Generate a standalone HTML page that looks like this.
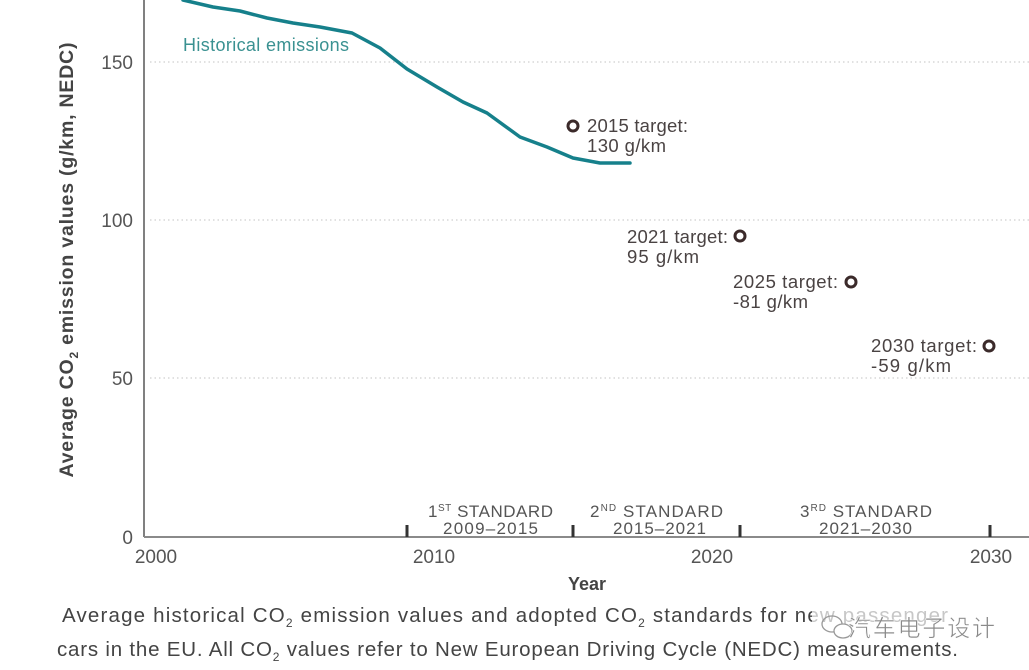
<!DOCTYPE html>
<html><head><meta charset="utf-8"><style>
html,body{margin:0;padding:0;background:#fff;}
svg{display:block;}
text{font-family:"Liberation Sans","Noto Sans CJK SC",sans-serif;}
</style></head><body>
<svg width="1029" height="670" viewBox="0 0 1029 670" xmlns="http://www.w3.org/2000/svg">
<rect width="1029" height="670" fill="#fff"/>
<!-- gridlines -->
<g stroke="#cfcfcf" stroke-width="1.3" stroke-dasharray="1.5 3">
<line x1="150" y1="62" x2="1029" y2="62"/>
<line x1="150" y1="220" x2="1029" y2="220"/>
<line x1="150" y1="378" x2="1029" y2="378"/>
</g>
<!-- axes -->
<line x1="144" y1="0" x2="144" y2="537" stroke="#808080" stroke-width="2"/>
<line x1="144" y1="537" x2="1029" y2="537" stroke="#8a8a8a" stroke-width="2"/>
<g stroke="#333" stroke-width="3">
<line x1="407" y1="525" x2="407" y2="537"/>
<line x1="573" y1="525" x2="573" y2="537"/>
<line x1="740" y1="525" x2="740" y2="537"/>
<line x1="990" y1="525" x2="990" y2="537"/>
</g>
<!-- y tick labels -->
<g fill="#555" font-size="19" text-anchor="end">
<text x="133" y="69">150</text>
<text x="133" y="227">100</text>
<text x="133" y="385">50</text>
<text x="133" y="544">0</text>
</g>
<!-- x tick labels -->
<g fill="#555" font-size="19" text-anchor="middle">
<text x="156" y="563">2000</text>
<text x="434" y="563">2010</text>
<text x="712" y="563">2020</text>
<text x="991" y="563">2030</text>
</g>
<text x="587" y="590" fill="#444" font-size="18" font-weight="bold" text-anchor="middle">Year</text>
<!-- y title -->
<text transform="translate(73,260) rotate(-90)" fill="#444" font-size="19.5" font-weight="bold" text-anchor="middle" textLength="435" lengthAdjust="spacing">Average CO<tspan font-size="12" dy="5">2</tspan><tspan dy="-5"> emission values (g/km, NEDC)</tspan></text>
<!-- standards -->
<g fill="#555" font-size="17">
<text x="428" y="517" textLength="125" lengthAdjust="spacing">1<tspan font-size="10" dy="-6">ST</tspan><tspan dy="6"> STANDARD</tspan></text>
<text x="443" y="534" textLength="95" lengthAdjust="spacing">2009–2015</text>
<text x="590" y="517" textLength="133" lengthAdjust="spacing">2<tspan font-size="10" dy="-6">ND</tspan><tspan dy="6"> STANDARD</tspan></text>
<text x="613" y="534" textLength="93" lengthAdjust="spacing">2015–2021</text>
<text x="800" y="517" textLength="132" lengthAdjust="spacing">3<tspan font-size="10" dy="-6">RD</tspan><tspan dy="6"> STANDARD</tspan></text>
<text x="819" y="534" textLength="93" lengthAdjust="spacing">2021–2030</text>
</g>
<!-- historical line -->
<polyline fill="none" stroke="#16808b" stroke-width="3.5" stroke-linejoin="round" stroke-linecap="round"
points="183,0 213,7 240,11 267,18 293,23 320,27 352,33 380,48 407,69 437,87 463,102 487,113 520,137 547,147 573,158 600,163 630,163"/>
<text x="183" y="51" fill="#3a9191" font-size="18" textLength="166" lengthAdjust="spacing">Historical emissions</text>
<!-- targets -->
<g fill="none" stroke="#3b2a2a" stroke-width="3">
<circle cx="573" cy="126" r="5"/>
<circle cx="740" cy="236" r="5"/>
<circle cx="851" cy="282" r="5"/>
<circle cx="989" cy="346" r="5"/>
</g>
<g fill="#4a4343" font-size="18.5">
<text x="587" y="132" textLength="101" lengthAdjust="spacing">2015 target:</text>
<text x="587" y="152" textLength="79" lengthAdjust="spacing">130 g/km</text>
<text x="627" y="243" textLength="101" lengthAdjust="spacing">2021 target:</text>
<text x="627" y="263" textLength="72" lengthAdjust="spacing">95 g/km</text>
<text x="733" y="288" textLength="105" lengthAdjust="spacing">2025 target:</text>
<text x="733" y="308" textLength="75" lengthAdjust="spacing">-81 g/km</text>
<text x="871" y="352" textLength="106" lengthAdjust="spacing">2030 target:</text>
<text x="871" y="372" textLength="80" lengthAdjust="spacing">-59 g/km</text>
</g>
<!-- caption -->
<g fill="#444" font-size="20.5">
<text x="62" y="622" textLength="886" lengthAdjust="spacing">Average historical CO<tspan font-size="12" dy="5">2</tspan><tspan dy="-5"> emission values and adopted CO</tspan><tspan font-size="12" dy="5">2</tspan><tspan dy="-5"> standards for new passenger</tspan></text>
<text x="57" y="656" textLength="901" lengthAdjust="spacing">cars in the EU. All CO<tspan font-size="12" dy="5">2</tspan><tspan dy="-5"> values refer to New European Driving Cycle (NEDC) measurements.</tspan></text>
</g>
<!-- watermark -->
<rect x="812" y="606" width="190" height="34" fill="#fff" opacity="0.7"/>
<g fill="none" stroke="#999" stroke-width="1.3">
<ellipse cx="832" cy="624" rx="10" ry="8"/>
<ellipse cx="843" cy="631" rx="9" ry="7" fill="#fff"/>
</g>
<text x="848" y="636" fill="#8a8a8a" font-size="23" font-family="'Noto Sans CJK SC',sans-serif" textLength="147" lengthAdjust="spacing" stroke="#fff" stroke-width="0.5">汽车电子设计</text>
</svg>
</body></html>
